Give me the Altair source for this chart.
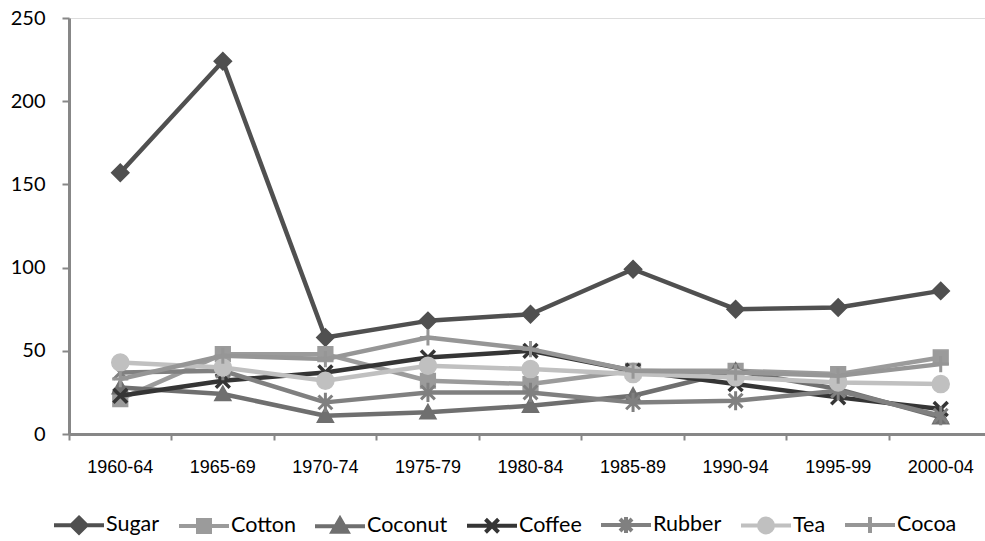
import altair as alt
import pandas as pd

categories = ["1960-64", "1965-69", "1970-74", "1975-79", "1980-84",
              "1985-89", "1990-94", "1995-99", "2000-04"]
series_names = ["Sugar", "Cotton", "Coconut", "Coffee", "Rubber", "Tea", "Cocoa"]

sugar = [157, 224, 58, 68, 72, 99, 75, 76, 86]
cotton = [21, 48, 48, 32, 30, 38, 38, 36, 46]
coconut = [28, 24, 11, 13, 17, 23, 38, 27, 10]
coffee = [23, 32, 37, 46, 50, 38, 30, 22, 15]
rubber = [37, 38, 19, 25, 25, 19, 20, 26, 11]
tea = [43, 40, 32, 41, 39, 36, 34, 31, 30]
cocoa = [33, 47, 45, 58, 51, 38, 37, 35, 42]

series_values = [sugar, cotton, coconut, coffee, rubber, tea, cocoa]
colors = ["#505050", "#9b9b9b", "#6f6f6f", "#353535", "#808080", "#c0c0c0", "#969696"]
y_ticks = [0, 50, 100, 150, 200, 250]

rows = []
for name, vals in zip(series_names, series_values):
    for c, v in zip(categories, vals):
        rows.append({"period": c, "series": name, "value": v})
df = pd.DataFrame(rows)

markers = {
    "Sugar": "M0,-1L1,0L0,1L-1,0Z",
    "Cotton": "M-0.85,-0.85L0.85,-0.85L0.85,0.85L-0.85,0.85Z",
    "Coconut": "M0,-1L1,0.8L-1,0.8Z",
    "Coffee": "M-0.8,-0.8L0.8,0.8M0.8,-0.8L-0.8,0.8",
    "Rubber": "M-0.8,-0.8L0.8,0.8M0.8,-0.8L-0.8,0.8M0,-1.1L0,1.1",
    "Tea": "M-1,0A1,1 0 1,0 1,0A1,1 0 1,0 -1,0Z",
    "Cocoa": "M0,-1L0,1M-1,0L1,0",
}
marker_size = {"Sugar": 300, "Cotton": 300, "Coconut": 260, "Coffee": 300,
               "Rubber": 300, "Tea": 290, "Cocoa": 260}
marker_stroke = {"Sugar": 1.5, "Cotton": 1.5, "Coconut": 1.5, "Coffee": 3.5,
                 "Rubber": 3, "Tea": 1.5, "Cocoa": 3}

legend_paths = {
    "Sugar": "M-1,0L1,0M0,-0.3L0.3,0L0,0.3L-0.3,0Z",
    "Cotton": "M-1,0L1,0M-0.24,-0.24L0.24,-0.24L0.24,0.24L-0.24,0.24Z",
    "Coconut": "M-1,0L1,0M0,-0.3L0.3,0.22L-0.3,0.22Z",
    "Coffee": "M-1,0L1,0M-0.26,-0.26L0.26,0.26M0.26,-0.26L-0.26,0.26",
    "Rubber": "M-1,0L1,0M-0.24,-0.24L0.24,0.24M0.24,-0.24L-0.24,0.24M0,-0.32L0,0.32",
    "Tea": "M-1,0L1,0M-0.28,0A0.28,0.28 0 1,0 0.28,0A0.28,0.28 0 1,0 -0.28,0Z",
    "Cocoa": "M-1,0L1,0M0,-0.32L0,0.32",
}
parts = [f"datum.value === '{n}' ? '{legend_paths[n]}'" for n in series_names]
shape_expr = " : ".join(parts) + " : 'M-1,0L1,0'"

legend = alt.Legend(
    orient="none", legendX=-17, legendY=480, direction="horizontal", columns=7,
    title=None, padding=0, columnPadding=11, symbolSize=2500, symbolStrokeWidth=4,
    symbolType=alt.ExprRef(expr=shape_expr),
    symbolFillColor=alt.ExprRef(expr="scale('color', datum.value)"),
    symbolStrokeColor=alt.ExprRef(expr="scale('color', datum.value)"),
    symbolOpacity=1,
    labelFont="Lato", labelFontSize=21.5, labelColor="#000000", labelOffset=0,
    labelLimit=300,
)

color = alt.Color("series:N", scale=alt.Scale(domain=series_names, range=colors),
                  legend=legend)

x = alt.X("period:O", sort=categories, title=None,
          scale=alt.Scale(type="band", paddingInner=0, paddingOuter=0, range=[0, 923]),
          axis=alt.Axis(bandPosition=0, labelAngle=0, labelFont="Liberation Sans",
                        labelFontSize=18, labelColor="#000000", labelPadding=18,
                        tickSize=6, tickWidth=2, tickColor="#878787",
                        domainColor="#878787", domainWidth=3, grid=False))
y = alt.Y("value:Q", title=None,
          scale=alt.Scale(domain=[0, 250], nice=False, zero=True),
          axis=alt.Axis(values=y_ticks, labelFont="Lato", labelFontSize=20,
                        labelColor="#000000", labelPadding=17, tickSize=7,
                        tickWidth=2, tickColor="#878787", domainColor="#878787",
                        domainWidth=3, grid=False))

base = alt.Chart(df)
layers = []
for name, col in zip(series_names, colors):
    sub = base.transform_filter(alt.datum.series == name)
    layers.append(sub.mark_line(strokeWidth=4.5, strokeJoin="round", color=col).encode(
        x=x, y=y))
    layers.append(sub.mark_point(shape=markers[name], size=marker_size[name],
                                 filled=True, opacity=1, stroke=col,
                                 strokeWidth=marker_stroke[name]).encode(
        x=x, y=y, color=color))

chart = alt.layer(*layers).properties(
    width=916, height=416,
    padding={"left": 69, "top": 18, "right": 0, "bottom": 107},
    autosize=alt.AutoSizeParams(type="none"),
).configure_view(stroke=None).configure(background="white")

chart.save("out.html", embed_options={"renderer": "svg", "actions": False})
